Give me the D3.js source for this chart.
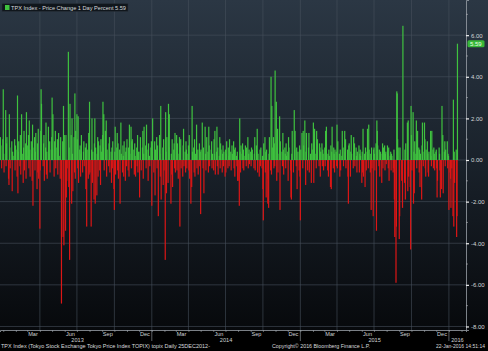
<!DOCTYPE html>
<html>
<head>
<meta charset="utf-8">
<title>TPX Index - Price Change 1 Day Percent</title>
<style>
  body { margin: 0; background: #000; }
  svg { display: block; }
  text { font-family: "Liberation Sans", Arial, sans-serif; }
</style>
</head>
<body>
<svg width="488" height="351"></svg>
<script src="https://d3js.org/d3.v7.min.js"></script>
<script>

// daily % change of TOPIX, one small array per month
const dec2012 = [1.1, 0.7, -0.4, 1.0];

const y2013 = [
  [3.4, 0.3, -0.6, 2.4, -0.3, 0.8, 1.1, -0.9, -1.2, 2.2, 0.6, -0.4, 0.9, -1.5, 0.4, 0.2, 1.0, -0.5, 0.7],
  [0.5, -0.8, 3.1, -1.6, 0.4, 0.9, -0.3, 1.2, -0.7, 2.2, 0.3, -1.1, 0.6, 1.4, -0.5, 0.8, -0.9, 2.3, 0.2],
  [0.7, 1.2, -0.4, 1.9, 0.5, -0.8, 0.9, 0.3, -1.0, 1.7, -2.2, 0.6, 1.1, -0.5, 0.4, 1.3, -1.4, 0.8, -0.6, 1.5, -0.9],
  [-3.3, -0.5, 1.4, 3.4, 2.7, -0.3, 0.8, 1.2, -1.0, 0.6, 1.8, -0.7, 0.4, -0.9, 1.6, 0.3, 0.9, -0.6, 0.5, 1.1],
  [3.0, 0.5, 2.2, -0.8, 0.9, 1.4, -0.4, 0.6, 1.0, -0.7, 0.8, 1.3, 0.2, -0.9, 1.1, -6.9, 0.9, -3.7, 2.6, -4.1, 1.2],
  [-3.4, 1.2, -1.8, -1.0, -0.4, 5.2, -1.3, 0.6, -4.8, 2.7, 1.2, -2.1, 2.0, 0.3, -1.5, 1.1, -0.6, 3.2, -0.9, 1.4],
  [2.2, 1.0, -0.4, 2.1, -1.1, 0.5, 0.7, -0.8, 0.3, 1.2, -0.6, 0.4, 0.9, -0.3, 0.6, -1.4, 0.8, -3.2, 0.5, -0.9, 1.3, -0.7],
  [2.8, -0.6, -3.2, 0.5, 2.0, -1.1, 0.4, -1.9, 0.8, 2.0, -2.1, 0.6, -1.7, 0.3, 1.1, -0.8, 0.9, -0.5, 0.7, -1.2, 1.0, 0.4],
  [1.2, 2.8, 0.6, 2.2, -0.5, 1.4, 0.3, 1.9, -0.8, 0.5, -0.3, 0.8, 1.1, -0.6, 0.4, -1.1, 0.6, -0.4, 0.9, -1.4],
  [-2.4, 0.4, 1.6, -0.7, 0.6, 1.3, -0.5, 0.8, -0.9, 0.5, -2.1, 1.8, 0.3, -0.6, 0.7, 0.2, -0.8, 0.9, -1.0, 0.4, 0.6, -0.3],
  [1.0, -0.5, 0.6, -0.8, 1.7, 0.3, 1.6, -0.4, 0.9, 1.0, 0.5, -0.7, 0.8, 0.2, -0.8, 0.6, -0.3, 1.2, -0.6, 0.4],
  [-1.8, 0.4, 1.1, -0.5, 0.6, 1.4, -0.9, 0.3, 1.6, 0.7, -0.4, 1.7, 0.5, -1.0, 0.8, 0.2, -0.3, 0.6, 0.9]
];

const y2014 = [
  [-2.2, 0.4, 2.0, -0.6, 0.9, -1.7, 0.5, 1.1, -0.4, 0.7, -2.7, 1.2, 0.3, -0.8, 2.6, -1.9, 0.6, -1.2, 1.0, -0.5],
  [-4.8, 2.3, 0.4, -1.6, 1.1, -1.1, 2.7, 0.6, 2.2, -2.1, 0.3, -0.7, 1.0, -1.3, 0.5, 0.8, -0.4, 1.3, -0.6],
  [1.2, -0.5, 0.8, 0.3, -0.9, 1.1, -3.2, 0.6, 1.0, -0.4, -0.8, 0.7, 1.5, -0.3, 0.4, -0.6, 0.9, 0.5, -0.4, 0.3],
  [0.7, -0.5, 1.2, -0.9, -2.1, -1.3, 2.6, 0.4, 0.6, -0.6, 1.0, -0.8, 0.3, 1.7, -0.4, 0.5, -0.7, 0.8, -0.3, 0.4],
  [-2.6, 0.5, 1.8, -0.4, 0.6, -1.6, 1.6, 0.3, -0.5, 1.1, 0.4, -0.6, 1.6, 0.7, -0.3, 0.5, 0.9, -0.4, 0.3],
  [-0.5, 1.0, 0.3, 1.4, -0.7, 0.4, 1.6, -0.3, 0.6, -0.7, 0.2, 1.1, -0.4, 0.8, 0.5, -0.6, 0.3, 0.7, -0.3, 0.4, -0.8],
  [0.5, -0.6, 0.3, 0.9, -0.4, 0.6, 0.2, -0.3, 1.0, 0.4, -0.5, 0.7, 0.3, 0.9, -0.4, 0.5, -0.8, 0.6, 0.2, -0.3, 0.4, -1.0],
  [-1.0, -2.2, 2.0, 0.4, -0.6, 0.7, 0.3, 0.8, -0.4, 0.5, -0.5, 0.2, 0.7, 0.4, -0.3, 0.6, 1.1, -0.4, 0.3, 0.5, -0.2],
  [0.4, -0.3, 0.6, 0.2, 0.5, -0.4, 0.3, 1.1, -0.5, 0.7, 0.4, 1.5, -0.6, 0.3, -0.8, 0.5, -0.3, 0.6, -0.4, 0.2],
  [-1.4, -2.9, 0.8, 1.1, -0.6, 0.4, -1.8, 0.5, -2.1, -0.9, -2.3, 0.3, 1.1, -0.5, 4.0, -0.7, 2.6, 0.6, 1.1, -0.4, 0.8, -0.3, 4.3],
  [2.8, -1.0, 0.6, 1.5, -0.6, 0.3, 2.1, -2.4, 0.9, 0.4, -0.3, 1.3, 0.5, -0.7, 0.6, 0.3, -0.4, 0.8, 0.2],
  [0.4, -1.0, 1.1, 0.6, -0.5, -1.8, -1.9, 0.3, 1.4, -0.6, 2.4, 0.5, 1.4, -0.3, 0.6, -1.4, 0.4, -0.5, 0.7, -0.8]
];

const y2015 = [
  [-2.9, 0.5, 1.3, -0.4, 1.4, 0.7, 1.9, -1.2, 0.4, 1.3, -0.5, 0.6, 1.3, -0.6, 0.3, -1.1, 0.8, 0.5],
  [1.8, -1.1, 0.4, 1.5, 0.3, -0.4, 1.4, 0.5, 1.0, -0.3, 0.8, 0.6, -0.8, 0.4, 0.8, -0.3, 0.5, 0.3, -0.5],
  [0.6, -0.3, 1.4, 0.4, 1.6, -0.5, 0.3, -0.8, 0.5, 0.2, -1.3, 0.7, -1.4, 0.4, 1.6, -0.4, 0.6, 0.3, -0.6, 0.5, 0.4, -0.3],
  [1.7, -0.4, 0.9, 0.3, -0.8, 0.5, -0.5, 0.2, 1.4, 0.6, -0.3, 1.4, 0.4, 1.0, -0.4, 0.5, -0.8, -2.1, 0.7],
  [0.8, -0.8, 0.4, 1.2, 0.3, -0.4, 1.1, 0.5, 0.8, -0.3, 0.6, 0.2, -0.6, 0.4, 0.7, -0.6, 0.3, 0.5, 0.2],
  [-1.1, 0.4, -0.6, 1.5, -0.8, 0.3, -1.3, 0.6, 0.4, -0.5, 1.5, 0.3, -0.4, 1.7, 0.5, -0.6, 0.3, -2.4, 0.6, -0.4, -2.7, 0.5],
  [0.6, 0.3, -0.5, 0.8, -3.4, 1.9, 1.4, 0.7, -0.3, 0.5, -0.8, 0.4, -1.1, 0.3, 0.8, -0.4, 0.6, 0.7, -0.5, 0.3, 0.4, -0.2],
  [0.7, 0.3, -0.4, 0.6, -1.0, 0.2, 0.4, -0.5, 0.3, 0.2, -0.6, -0.4, 0.5, -1.9, -3.7, -5.9, -3.2, 3.3, 3.2, 1.0, 0.6],
  [-3.8, -2.7, 0.6, -1.0, -0.7, -2.3, 6.45, -1.1, 0.5, -1.9, 0.8, 1.8, -1.5, 1.9, -0.8, -1.3, -4.3, 2.6],
  [1.2, -0.5, 2.3, -2.1, 0.4, -1.6, 0.9, 0.3, 1.9, -0.4, 1.4, 0.6, -0.6, 0.5, -1.3, 0.3, -1.9, 0.7, 1.8, 0.4, -0.3],
  [1.8, 1.0, -0.4, -0.8, 0.5, 0.9, 0.3, -0.6, -0.8, 0.4, 1.4, 0.2, -0.3, 1.4, 0.5, -0.4, 0.6, 0.3, -0.5, 0.4],
  [0.5, -0.4, -1.8, -1.0, 0.6, 0.3, -0.5, -1.8, -1.4, 2.6, 1.2, -1.6, 0.4, 0.9, -0.3, 0.5, 0.9, -0.4, 0.3, 0.2]
];

const jan2016 = [-2.4, -0.6, -0.9, -2.3, -0.4, -2.7, 2.9, -3.2, 0.4, -1.1, 0.5, -3.7, -2.7, 5.59];

const yTicks = [-8, -6, -4, -2, 0, 2, 4, 6];
const monthNames = ["Jan","Feb","Mar","Apr","May","Jun","Jul","Aug","Sep","Oct","Nov","Dec"];
const lastValue = 5.59;

const startDate = new Date(2012, 11, 25);
const endDate = new Date(2016, 0, 22);

// put every month's values on that month's weekdays
const monthRows = [[2012, 11, dec2012]]
  .concat(y2013.map((v, i) => [2013, i, v]))
  .concat(y2014.map((v, i) => [2014, i, v]))
  .concat(y2015.map((v, i) => [2015, i, v]))
  .concat([[2016, 0, jan2016]]);

const series = [];
monthRows.forEach(([yr, mo, vals]) => {
  const lo = d3.max([new Date(yr, mo, 1), startDate]);
  const hi = d3.min([new Date(yr, mo + 1, 1), d3.timeDay.offset(endDate, 1)]);
  const days = d3.timeDay.range(lo, hi).filter(d => d.getDay() % 6 !== 0);
  const n = vals.length;
  vals.forEach((v, k) => {
    const j = n > 1 ? Math.round(k * (days.length - 1) / (n - 1)) : 0;
    series.push({ date: days[j], value: v });
  });
});

const W = 488, H = 351;
const plotR = 466, plotB = 330;

const svg = d3.select("svg");

const x = d3.scaleTime()
  .domain([new Date(2012, 11, 24), new Date(2016, 1, 12)])
  .range([0, plotR]);
const y = d3.scaleLinear()
  .domain([-8.17, 7.69])
  .range([plotB, 0]);

// background
const defs = svg.append("defs");
const grad = defs.append("linearGradient")
  .attr("id", "bg").attr("x1", 0).attr("y1", 0).attr("x2", 0).attr("y2", 1);
grad.append("stop").attr("offset", "0%").attr("stop-color", "#2b3744");
grad.append("stop").attr("offset", "50%").attr("stop-color", "#19212a");
grad.append("stop").attr("offset", "100%").attr("stop-color", "#07090c");

svg.append("rect").attr("width", W).attr("height", H).attr("fill", "#000");
svg.append("rect").attr("width", W).attr("height", plotB).attr("fill", "url(#bg)");

// grid
const grid = svg.append("g").attr("stroke", "#46515c").attr("stroke-width", 0.6);
grid.selectAll("line.h")
  .data(yTicks)
  .join("line")
    .attr("class", "h")
    .attr("x1", 0).attr("x2", plotR)
    .attr("y1", d => y(d)).attr("y2", d => y(d));
grid.selectAll("line.v")
  .data(d3.timeMonth.every(3).range(new Date(2013, 3, 1), new Date(2016, 0, 2)))
  .join("line")
    .attr("class", "v")
    .attr("x1", d => x(d)).attr("x2", d => x(d))
    .attr("y1", 0).attr("y2", plotB);

// bars
svg.append("g")
  .selectAll("rect")
  .data(series)
  .join("rect")
    .attr("x", d => x(d.date) - 0.6)
    .attr("width", 1.2)
    .attr("y", d => y(Math.max(0, d.value)))
    .attr("height", d => Math.abs(y(d.value) - y(0)))
    .attr("fill", d => d.value >= 0 ? "#3fc23f" : "#dc1616");

// right axis
const yAxis = svg.append("g")
  .attr("transform", `translate(${plotR},0)`)
  .call(d3.axisRight(y).tickValues(yTicks).tickSize(3).tickPadding(2)
    .tickFormat(d => d.toFixed(2)));
yAxis.select(".domain").attr("stroke", "#9aa1a8").attr("stroke-width", 0.8);
yAxis.selectAll(".tick line").attr("stroke", "#f0f0f0").attr("stroke-width", 1.2);
yAxis.selectAll(".tick text").attr("fill", "#d4d6d8").attr("font-size", 6)
  .attr("font-family", "Liberation Sans, Arial, sans-serif");
svg.append("g")
  .attr("stroke", "#b0b4b8").attr("stroke-width", 0.6)
  .selectAll("line")
  .data(d3.range(-7, 8, 2))
  .join("line")
    .attr("x1", plotR).attr("x2", plotR + 2)
    .attr("y1", d => y(d)).attr("y2", d => y(d));

// last value tag
svg.append("rect")
  .attr("x", plotR + 1.5).attr("y", y(lastValue) - 3.5)
  .attr("width", 17).attr("height", 7).attr("rx", 1.5)
  .attr("fill", "#38b838");
svg.append("text")
  .attr("x", plotR + 4).attr("y", y(lastValue) + 2.1)
  .attr("font-size", 6).attr("fill", "#e6ffe6")
  .text(lastValue.toFixed(2));

// bottom axis
const xAxis = svg.append("g")
  .attr("transform", `translate(0,${plotB})`)
  .call(d3.axisBottom(x).ticks(d3.timeMonth.every(1)).tickSize(2).tickFormat(""));
xAxis.select(".domain").attr("stroke", "#9aa1a8").attr("stroke-width", 0.8);
xAxis.selectAll(".tick line").attr("stroke", "#9aa1a8").attr("stroke-width", 0.6);

// year separators
svg.append("g")
  .attr("stroke", "#9aa1a8").attr("stroke-width", 0.6)
  .selectAll("line")
  .data([new Date(2014, 0, 1), new Date(2015, 0, 1), new Date(2016, 0, 1)])
  .join("line")
    .attr("x1", d => x(d)).attr("x2", d => x(d))
    .attr("y1", plotB).attr("y2", plotB + 11);

// month labels
const quarterMonths = d3.timeMonth.range(new Date(2013, 0, 1), new Date(2016, 0, 1))
  .filter(d => d.getMonth() % 3 === 2);
svg.append("g")
  .attr("font-size", 5.6).attr("fill", "#cfd2d4").attr("text-anchor", "middle")
  .selectAll("text")
  .data(quarterMonths)
  .join("text")
    .attr("x", d => x(d3.timeDay.offset(d, 14)))
    .attr("y", plotB + 6.2)
    .text(d => monthNames[d.getMonth()]);

// year labels
const years = [2013, 2014, 2015, 2016];
svg.append("g")
  .attr("font-size", 5.6).attr("fill", "#cfd2d4").attr("text-anchor", "middle")
  .selectAll("text")
  .data(years)
  .join("text")
    .attr("x", d => {
      const a = x(new Date(d, 0, 1));
      const b = Math.min(x(new Date(d + 1, 0, 1)), plotR);
      return (a + b) / 2;
    })
    .attr("y", plotB + 12.2)
    .text(d => d);

// footer
const foot = svg.append("g").attr("font-size", 5.4).attr("fill", "#d8dadc");
foot.append("text").attr("x", 1).attr("y", 347.8)
  .attr("textLength", 209).attr("lengthAdjust", "spacingAndGlyphs")
  .text("TPX Index (Tokyo Stock Exchange Tokyo Price Index TOPIX) topix  Daily 25DEC2012-");
foot.append("text").attr("x", 272).attr("y", 347.8)
  .attr("textLength", 98).attr("lengthAdjust", "spacingAndGlyphs")
  .text("Copyright\u00a9 2016 Bloomberg Finance L.P.");
foot.append("text").attr("x", 436).attr("y", 347.8)
  .attr("textLength", 49).attr("lengthAdjust", "spacingAndGlyphs")
  .text("22-Jan-2016 14:51:14");

// legend
const leg = svg.append("g");
leg.append("rect").attr("x", 2).attr("y", 3.5).attr("width", 126).attr("height", 8)
  .attr("fill", "#10161c").attr("stroke", "#2a333c").attr("stroke-width", 0.5);
leg.append("rect").attr("x", 5).attr("y", 5).attr("width", 4.5).attr("height", 5)
  .attr("fill", "#3fc23f");
leg.append("text").attr("x", 11).attr("y", 9.6)
  .attr("font-size", 5.6).attr("fill", "#d8dadc")
  .attr("textLength", 115).attr("lengthAdjust", "spacingAndGlyphs")
  .text("TPX Index - Price Change 1 Day Percent 5.59");

</script>
</body>
</html>
